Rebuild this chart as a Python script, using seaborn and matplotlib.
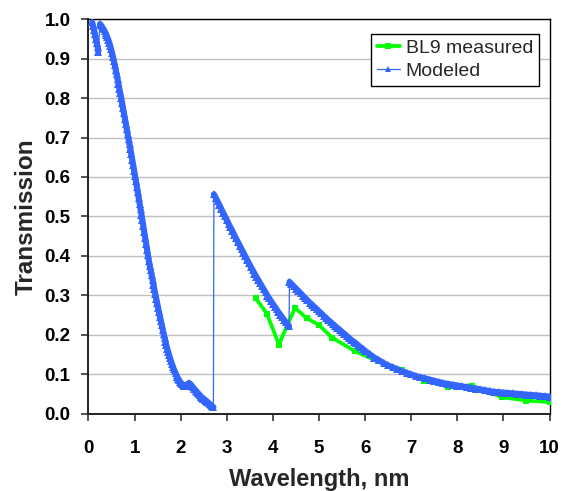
import matplotlib
matplotlib.use("Agg")
import matplotlib.pyplot as plt
import seaborn as sns
import pandas as pd
from matplotlib.ticker import FormatStrFormatter

# ---------------- data ----------------
# Measured (BL9)
meas_wl = [3.63, 3.87, 4.13, 4.48, 4.73, 4.99, 5.29, 5.78, 6.29, 6.81,
           7.28, 7.80, 8.31, 8.98, 9.50, 10.0]
meas_tr = [0.292, 0.253, 0.175, 0.268, 0.242, 0.225, 0.192, 0.158, 0.132, 0.111,
           0.083, 0.068, 0.071, 0.041, 0.033, 0.029]

# Modeled: segment below 0.25 nm
mod_wl_a = [0.08, 0.10, 0.12, 0.14, 0.16, 0.18, 0.20, 0.21]
mod_tr_a = [0.992, 0.983, 0.973, 0.962, 0.951, 0.940, 0.929, 0.918]

# Modeled: 0.25 - 2.71 nm
mod_wl_b = [0.25, 0.27, 0.29, 0.31, 0.33, 0.35, 0.37, 0.39, 0.41, 0.43,
            0.45, 0.47, 0.49, 0.51, 0.53, 0.55, 0.57, 0.59, 0.61, 0.63,
            0.65, 0.67, 0.69, 0.71, 0.73, 0.75, 0.77, 0.79, 0.81, 0.83,
            0.85, 0.87, 0.89, 0.91, 0.93, 0.95, 0.97, 0.99, 1.01, 1.03,
            1.05, 1.07, 1.09, 1.11, 1.13, 1.15, 1.17, 1.19, 1.21, 1.23,
            1.25, 1.27, 1.29, 1.31, 1.33, 1.35, 1.37, 1.39, 1.41, 1.43,
            1.45, 1.47, 1.49, 1.51, 1.53, 1.55, 1.57, 1.59, 1.61, 1.63,
            1.65, 1.67, 1.69, 1.71, 1.73, 1.75, 1.77, 1.79, 1.81, 1.83,
            1.85, 1.87, 1.89, 1.91, 1.93, 1.95, 1.97, 1.99, 2.01, 2.03,
            2.05, 2.07, 2.09, 2.11, 2.13, 2.15, 2.17, 2.19, 2.21, 2.23,
            2.25, 2.27, 2.29, 2.31, 2.33, 2.35, 2.37, 2.39, 2.41, 2.43,
            2.45, 2.47, 2.49, 2.51, 2.53, 2.55, 2.57, 2.59, 2.61, 2.63,
            2.65, 2.67, 2.69, 2.71]
mod_tr_b = [0.988, 0.985, 0.982, 0.978, 0.974, 0.970, 0.965, 0.960, 0.954, 0.948,
            0.941, 0.933, 0.925, 0.915, 0.905, 0.895, 0.884, 0.872, 0.860, 0.848,
            0.836, 0.824, 0.812, 0.800, 0.787, 0.774, 0.761, 0.748, 0.735, 0.722,
            0.709, 0.696, 0.683, 0.670, 0.657, 0.643, 0.630, 0.616, 0.603, 0.589,
            0.575, 0.561, 0.547, 0.532, 0.518, 0.504, 0.490, 0.475, 0.460, 0.446,
            0.431, 0.416, 0.401, 0.387, 0.375, 0.363, 0.351, 0.339, 0.327, 0.315,
            0.303, 0.291, 0.280, 0.268, 0.257, 0.246, 0.235, 0.224, 0.213, 0.202,
            0.192, 0.182, 0.173, 0.164, 0.156, 0.148, 0.140, 0.133, 0.126, 0.119,
            0.113, 0.107, 0.102, 0.097, 0.092, 0.088, 0.084, 0.080, 0.077, 0.074,
            0.072, 0.070, 0.069, 0.071, 0.073, 0.075, 0.076, 0.077, 0.075, 0.072,
            0.069, 0.066, 0.063, 0.061, 0.058, 0.055, 0.052, 0.050, 0.047, 0.045,
            0.042, 0.040, 0.038, 0.036, 0.034, 0.032, 0.030, 0.028, 0.026, 0.024,
            0.022, 0.020, 0.018, 0.016]

# Modeled: 2.72 - 4.35 nm
mod_wl_c = [2.72, 2.76, 2.80, 2.84, 2.88, 2.92, 2.96, 3.00, 3.04, 3.08,
            3.12, 3.16, 3.20, 3.24, 3.28, 3.32, 3.36, 3.40, 3.44, 3.48,
            3.52, 3.56, 3.60, 3.64, 3.68, 3.72, 3.76, 3.80, 3.84, 3.88,
            3.92, 3.96, 4.00, 4.04, 4.08, 4.12, 4.16, 4.20, 4.24, 4.28,
            4.32, 4.35]
mod_tr_c = [0.556, 0.547, 0.538, 0.529, 0.519, 0.509, 0.500, 0.491, 0.481, 0.472,
            0.463, 0.453, 0.444, 0.435, 0.426, 0.417, 0.408, 0.399, 0.390, 0.381,
            0.372, 0.364, 0.355, 0.347, 0.339, 0.331, 0.323, 0.315, 0.307, 0.299,
            0.292, 0.285, 0.278, 0.271, 0.264, 0.257, 0.251, 0.244, 0.238, 0.232,
            0.226, 0.222]

# Modeled: 4.36 - 10 nm
mod_wl_d = [4.36, 4.40, 4.45, 4.50, 4.55, 4.60, 4.65, 4.70, 4.75, 4.80,
            4.85, 4.90, 4.95, 5.00, 5.05, 5.10, 5.15, 5.20, 5.25, 5.30,
            5.35, 5.40, 5.45, 5.50, 5.55, 5.60, 5.65, 5.70, 5.75, 5.80,
            5.85, 5.90, 5.95, 6.00, 6.10, 6.20, 6.30, 6.40, 6.50, 6.60,
            6.70, 6.80, 6.90, 7.00, 7.10, 7.20, 7.30, 7.40, 7.50, 7.60,
            7.70, 7.80, 7.90, 8.00, 8.10, 8.20, 8.30, 8.40, 8.50, 8.60,
            8.70, 8.80, 8.90, 9.00, 9.10, 9.20, 9.30, 9.40, 9.50, 9.60,
            9.70, 9.80, 9.90, 10.0]
mod_tr_d = [0.334, 0.329, 0.323, 0.317, 0.311, 0.305, 0.299, 0.293, 0.287, 0.281,
            0.276, 0.270, 0.265, 0.259, 0.254, 0.248, 0.243, 0.237, 0.232, 0.227,
            0.222, 0.217, 0.212, 0.207, 0.202, 0.197, 0.192, 0.187, 0.182, 0.178,
            0.173, 0.168, 0.164, 0.159, 0.150, 0.142, 0.135, 0.128, 0.122, 0.117,
            0.112, 0.107, 0.103, 0.099, 0.095, 0.092, 0.089, 0.086, 0.083, 0.080,
            0.077, 0.075, 0.073, 0.071, 0.069, 0.067, 0.065, 0.063, 0.061, 0.059,
            0.057, 0.055, 0.054, 0.053, 0.052, 0.051, 0.050, 0.049, 0.048, 0.047,
            0.046, 0.045, 0.044, 0.043]

x_ticks = [0, 1, 2, 3, 4, 5, 6, 7, 8, 9, 10]
y_ticks = [0.0, 0.1, 0.2, 0.3, 0.4, 0.5, 0.6, 0.7, 0.8, 0.9, 1.0]

# ---------------- frames ----------------
df_meas = pd.DataFrame({"Wavelength": meas_wl, "Transmission": meas_tr})
df_mod = pd.DataFrame({
    "Wavelength": mod_wl_a + mod_wl_b + mod_wl_c + mod_wl_d,
    "Transmission": mod_tr_a + mod_tr_b + mod_tr_c + mod_tr_d,
    "segment": (["a"] * len(mod_wl_a) + ["b"] * len(mod_wl_b)
                + ["c"] * len(mod_wl_c) + ["d"] * len(mod_wl_d)),
})

# ---------------- plot ----------------
sns.set_theme(style="white")
plt.rcParams["font.family"] = ["Liberation Sans", "DejaVu Sans"]

fig = plt.figure(figsize=(5.65, 4.91), dpi=100)
ax = fig.add_axes([0.1566, 0.1578, 0.8160, 0.8030])

GREEN = "#00FF00"
BLUE = "#3366FF"

sns.lineplot(data=df_meas, x="Wavelength", y="Transmission", ax=ax,
             sort=False, estimator=None, color=GREEN, linewidth=2.7,
             marker="s", markersize=4.8, markeredgewidth=0,
             label="BL9 measured", zorder=3)
# thick band of the modeled curve (each continuous piece separately)
sns.lineplot(data=df_mod, x="Wavelength", y="Transmission", ax=ax,
             units="segment", sort=False, estimator=None, color=BLUE,
             linewidth=4.4, legend=False, zorder=4)
# thin connecting line with triangle markers
sns.lineplot(data=df_mod, x="Wavelength", y="Transmission", ax=ax,
             sort=False, estimator=None, color=BLUE, linewidth=0.9,
             marker="^", markersize=5.8, markeredgewidth=0,
             label="Modeled", zorder=5)

ax.set_xlim(0, 10)
ax.set_ylim(0, 1.0)
ax.set_xticks(x_ticks)
ax.set_yticks(y_ticks)
ax.yaxis.set_major_formatter(FormatStrFormatter("%.1f"))

ax.yaxis.grid(True, color="#C0C0C0", linewidth=1.0)
ax.xaxis.grid(False)
ax.set_axisbelow(True)

for side in ["left", "bottom", "top", "right"]:
    ax.spines[side].set_visible(True)
    ax.spines[side].set_color("black")
    ax.spines[side].set_linewidth(1.0)
ax.spines["left"].set_color("#222222")
ax.spines["bottom"].set_color("#222222")
ax.spines["left"].set_linewidth(1.4)
ax.spines["bottom"].set_linewidth(1.4)

ax.tick_params(axis="x", which="major", direction="out", length=5, width=1.2,
               color="#333333", bottom=True, top=False, pad=14,
               labelsize=13.5, labelcolor="black")
ax.tick_params(axis="y", which="major", direction="out", length=5, width=1.2,
               color="#333333", left=True, right=False, pad=8,
               labelsize=13.5, labelcolor="black")
for lbl in ax.get_xticklabels() + ax.get_yticklabels():
    lbl.set_fontweight("bold")

ax.set_xlabel("Wavelength, nm", fontsize=17, fontweight="bold", labelpad=8)
ax.set_ylabel("Transmission", fontsize=17.5, fontweight="bold", labelpad=5)

leg = ax.legend(loc="upper right", bbox_to_anchor=(0.977, 0.963),
                fontsize=14, frameon=True, fancybox=False, framealpha=1,
                edgecolor="black", borderpad=0.3, labelspacing=0.25,
                handlelength=1.2, handletextpad=0.3, borderaxespad=0)
leg.get_frame().set_linewidth(1.0)
handles = leg.legend_handles
handles[0].set_markersize(4.5)
handles[1].set_markersize(4)

fig.savefig("out.png", dpi=100)
